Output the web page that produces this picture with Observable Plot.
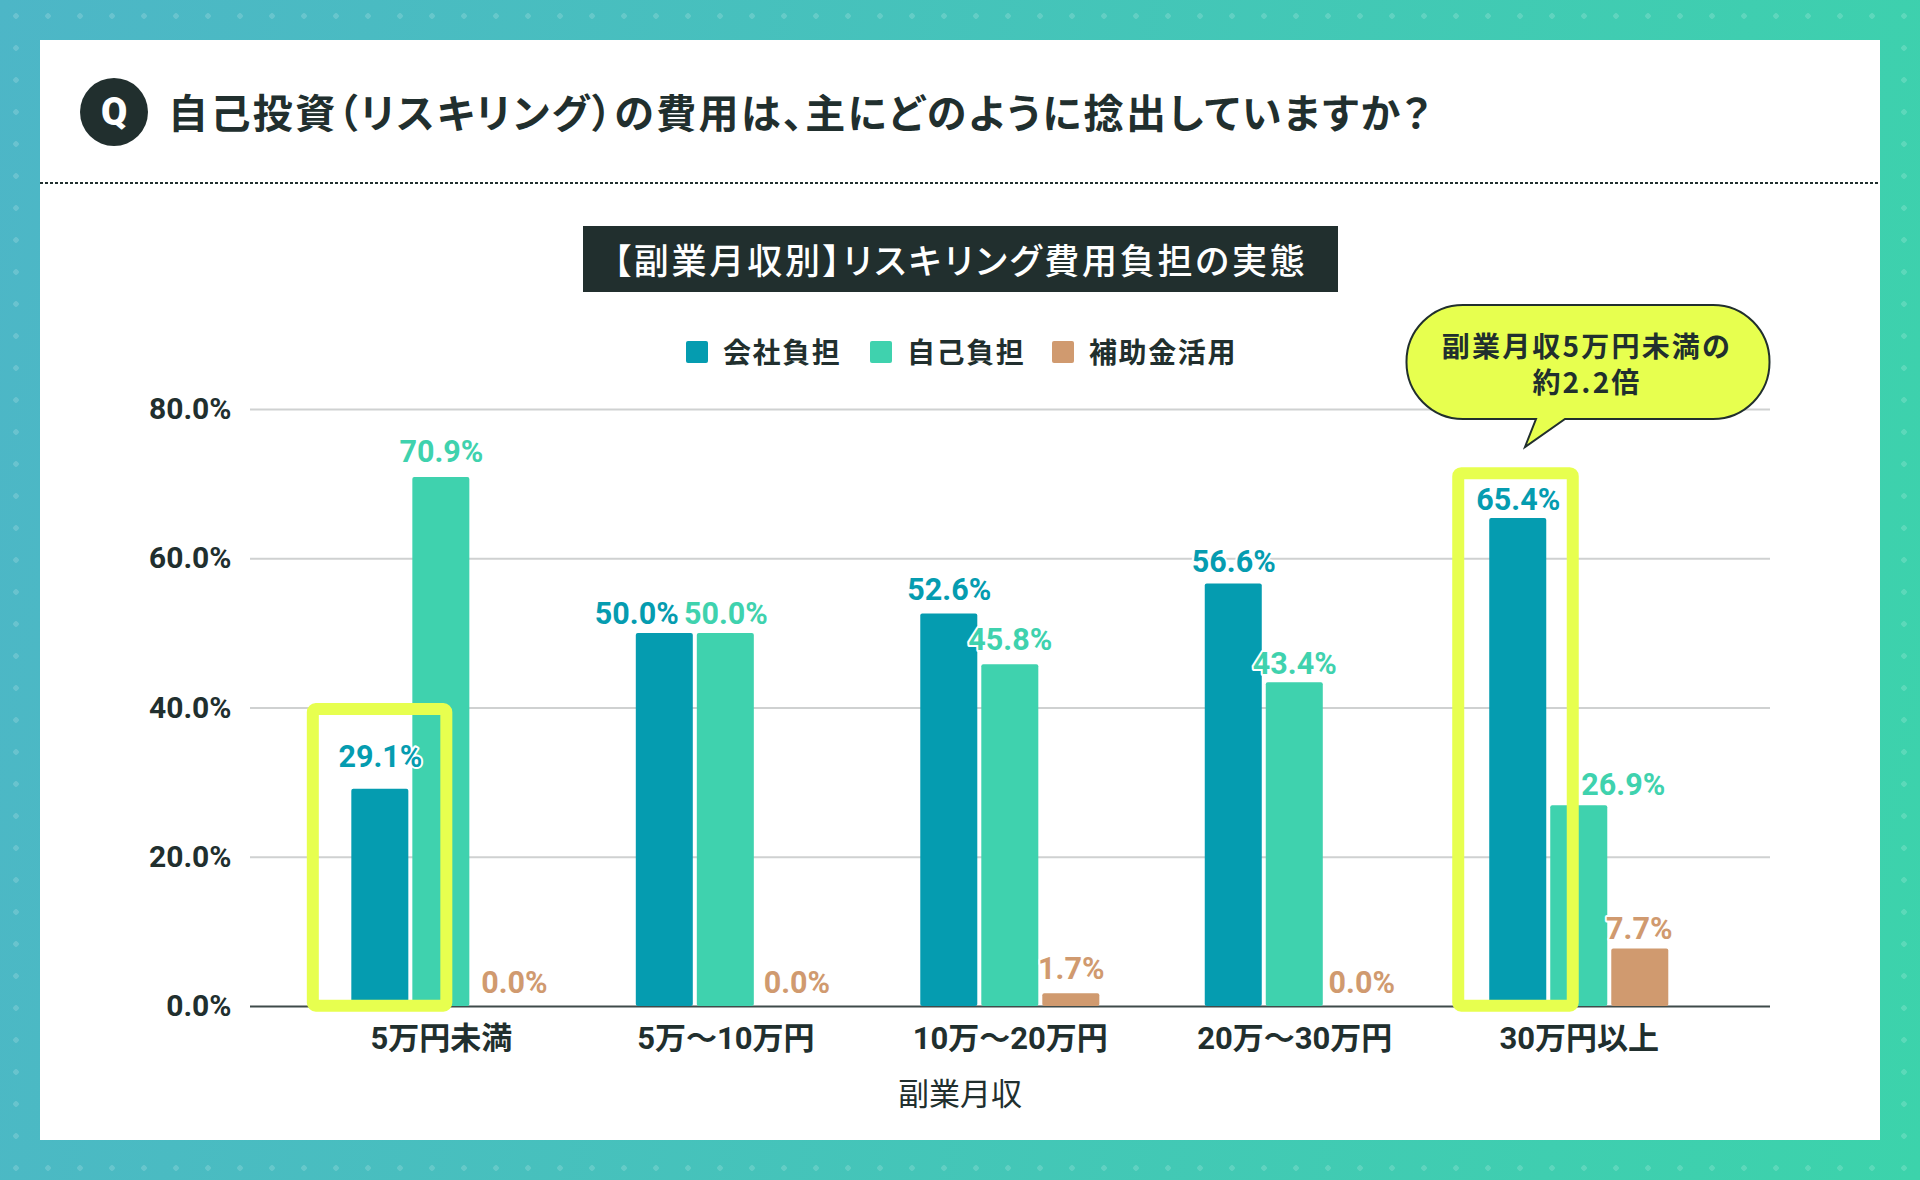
<!DOCTYPE html>
<html lang="ja">
<head>
<meta charset="utf-8">
<script src="https://cdn.jsdelivr.net/npm/d3@7"></script>
<script src="https://cdn.jsdelivr.net/npm/@observablehq/plot@0.6"></script>
<style>
html,body{margin:0;padding:0;width:1920px;height:1180px;overflow:hidden}
body{position:relative;font-family:"Noto Sans CJK JP",sans-serif;color:#212f2e;
background:
 radial-gradient(circle at 16px 16px,rgba(255,255,255,.16) 0,rgba(255,255,255,.16) 2.5px,transparent 3px) 0 0/32px 32px,
 linear-gradient(100deg,#4db6c7 0%,#3cd3ab 100%);}
.abs{position:absolute}
#panel{left:40px;top:40px;width:1840px;height:1100px;background:#fff}
#rule{left:40px;top:182px;width:1840px;height:2px;background:repeating-linear-gradient(90deg,#212f2e 0 3px,transparent 3px 5px)}
#q{left:80px;top:78px;width:68px;height:68px;border-radius:50%;background:#212f2e;color:#fff;font:900 38px Roboto,sans-serif;display:flex;align-items:center;justify-content:center}
#title{left:168px;top:84px;font-size:40px;font-weight:700;line-height:54px;white-space:nowrap;font-feature-settings:"palt";letter-spacing:2.4px}
#sub{left:583px;top:226px;width:755px;height:66px;background:#212f2e;color:#fff;font-size:35px;font-weight:500;line-height:66px;text-align:center;white-space:nowrap;font-feature-settings:"palt";letter-spacing:2.8px}
.swatch{width:22px;height:22px;top:341px;border-radius:2px}
.legend{top:330px;font-size:28px;font-weight:700;line-height:42px;letter-spacing:1.6px;white-space:nowrap}
#xlabel{left:760px;width:400px;top:1072px;text-align:center;font-size:31px;font-weight:400;line-height:40px}
#bubble{left:0;top:0}
#bubbletext{left:1387px;width:400px;top:327px;text-align:center;font-size:28px;font-weight:700;line-height:36px;letter-spacing:2.2px}
svg.layer{position:absolute;left:0;top:0}
</style>
</head>
<body>
<script>
const categories = ["5万円未満", "5万～10万円", "10万～20万円", "20万～30万円", "30万円以上"];
const seriesNames = ["会社負担", "自己負担", "補助金活用"];
const companyPaid = [29.1, 50.0, 52.6, 56.6, 65.4];
const selfPaid = [70.9, 50.0, 45.8, 43.4, 26.9];
const subsidyPaid = [0.0, 0.0, 1.7, 0.0, 7.7];
const yTicks = [0, 20, 40, 60, 80];
const titleText = "自己投資（リスキリング）の費用は、主にどのように捻出していますか？";
const subtitleText = "【副業月収別】リスキリング費用負担の実態";
const xLabel = "副業月収";
const calloutLines = ["副業月収5万円未満の", "約2.2倍"];
const highlightCategories = ["5万円未満", "30万円以上"];
const highlightTops = [39.8, 71.4];

const colors = ["#059cb0", "#3fd2ae", "#d09a6f"];
const ink = "#212f2e";
const lime = "#e7ff4f";
const font = "Roboto, 'Noto Sans CJK JP', sans-serif";

function add(tag, id, cls, text) {
  const el = document.createElement(tag);
  if (id) el.id = id;
  el.className = "abs " + (cls || "");
  if (text) el.innerHTML = text;
  document.body.appendChild(el);
  return el;
}

add("div", "panel");
add("div", "rule");
add("div", "q", "", "Q");
add("div", "title", "", titleText);
add("div", "sub", "", subtitleText);

const legendX = [[686, 723], [870, 907], [1052, 1089]];
seriesNames.forEach((name, i) => {
  const s = add("div", null, "swatch");
  s.style.left = legendX[i][0] + "px";
  s.style.background = colors[i];
  const t = add("div", null, "legend", name);
  t.style.left = legendX[i][1] + "px";
});

const rows = [];
categories.forEach((category, i) => {
  [companyPaid, selfPaid, subsidyPaid].forEach((values, j) => {
    rows.push({category, series: seriesNames[j], value: values[i]});
  });
});

// label offsets in the order of rows, relative to the top centre of each bar
const nudges = [
  [0, -32], [0, -25], [12, -23],
  [-28, -19], [0, -19], [10, -23],
  [0, -24], [0, -24], [0, -25],
  [0, -22], [0, -18], [6, -23],
  [0, -18], [44, -21], [-1, -20]
];

const labelMarks = rows.map((r, i) => Plot.text([r], {
  x: "series", fx: "category", y: "value",
  text: d => d.value.toFixed(1) + "%",
  fill: colors[seriesNames.indexOf(r.series)],
  stroke: "#fff", strokeWidth: 4, paintOrder: "stroke",
  fontSize: 30.5, fontWeight: 700, fontFamily: font,
  dx: nudges[i][0], dy: nudges[i][1]
}));

const highlightInsets = [[-38.500, -38], [-31, -26.5]];
const highlightMarks = highlightCategories.map((c, i) => Plot.barY([{category: c, series: seriesNames[0], top: highlightTops[i]}], {
  x: "series", fx: "category", y1: 0.05, y2: "top",
  fill: "none", stroke: lime, strokeWidth: 12, rx: 3,
  insetLeft: highlightInsets[i][0], insetRight: highlightInsets[i][1]
}));

const frame = {
  width: 1920, height: 1180,
  marginTop: 409, marginBottom: 174, marginLeft: 250, marginRight: 150,
  style: {background: "transparent", overflow: "visible", fontFamily: font}
};

const gridLayer = Plot.plot({
  ...frame,
  x: {axis: null},
  y: {domain: [0, 80], axis: null},
  marks: [
    Plot.ruleY(yTicks.filter(d => d > 0), {stroke: "#cfd1d1", strokeWidth: 2}),
    Plot.ruleY([0], {stroke: "#3f4b4a", strokeWidth: 2}),
    Plot.axisY({ticks: yTicks, tickFormat: d => d.toFixed(1) + "%", anchor: "left", tickSize: 0, tickPadding: 19, label: null, fontSize: 30, fontWeight: 700, fill: ink, fontFamily: font})
  ]
});
gridLayer.classList.add("layer");
document.body.appendChild(gridLayer);

const barLayer = Plot.plot({
  ...frame,
  fx: {domain: categories, range: [298.6, 1721], padding: 0, round: false, label: null},
  x: {domain: seriesNames, axis: null, paddingInner: 0.0656, paddingOuter: 0.864, round: false},
  y: {domain: [0, 80], axis: null},
  color: {domain: seriesNames, range: colors},
  marks: [
    Plot.barY(rows, {x: "series", fx: "category", y: "value", fill: "series", rx: 2}),
    ...highlightMarks,
    ...labelMarks,
    Plot.axisFx({anchor: "bottom", tickSize: 0, tickPadding: 20, label: null, fontSize: 31, fontWeight: 700, fill: ink, fontFamily: font})
  ]
});
barLayer.classList.add("layer");
document.body.appendChild(barLayer);

add("div", "xlabel", "", xLabel);

const ns = "http://www.w3.org/2000/svg";
const bub = document.createElementNS(ns, "svg");
bub.setAttribute("id", "bubble");
bub.setAttribute("class", "abs");
bub.setAttribute("width", 1920);
bub.setAttribute("height", 1180);
const p = document.createElementNS(ns, "path");
p.setAttribute("d", "M1463 305H1713A56.5 56.5 0 0 1 1769.5 361.500V362A56.500 56.500 0 0 1 1713 419H1565L1525 447L1536 419H1463A56.500 56.500 0 0 1 1406.500 362V361.500A56.500 56.500 0 0 1 1463 305Z");
p.setAttribute("fill", lime);
p.setAttribute("stroke", ink);
p.setAttribute("stroke-width", 2);
bub.appendChild(p);
document.body.appendChild(bub);
add("div", "bubbletext", "", calloutLines.join("<br>"));
</script>
</body>
</html>
